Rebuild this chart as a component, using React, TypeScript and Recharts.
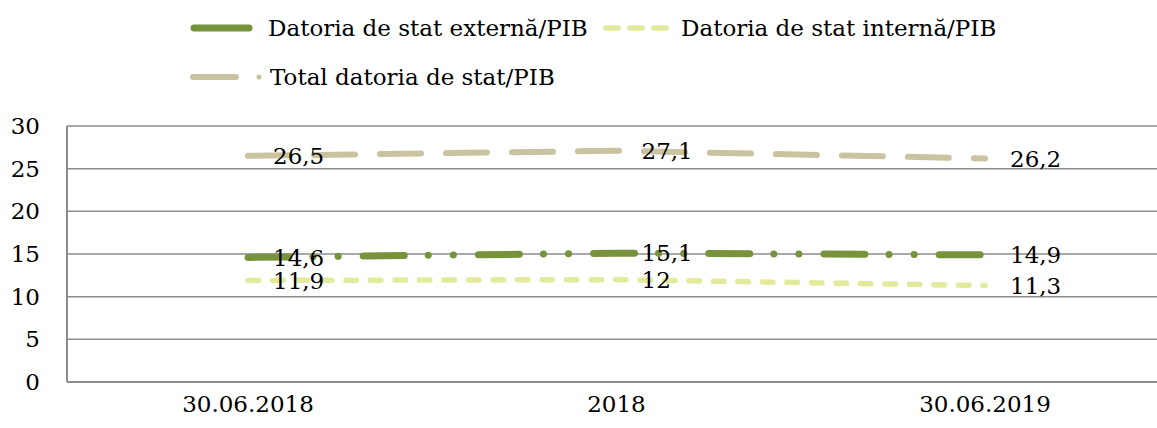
import React from "react";
import { LineChart, Line, XAxis, YAxis, CartesianGrid, Legend, LabelList } from "recharts";

const categories = ["30.06.2018", "2018", "30.06.2019"];
const externa = [14.6, 15.1, 14.9];
const interna = [11.9, 12, 11.3];
const total = [26.5, 27.1, 26.2];
const yTicks = [0, 5, 10, 15, 20, 25, 30];

const seriesNames = [
  "Datoria de stat externă/PIB",
  "Datoria de stat internă/PIB",
  "Total datoria de stat/PIB",
];

const data = categories.map((c, i) => ({
  name: c,
  externa: externa[i],
  interna: interna[i],
  total: total[i],
}));

const FONT = "'DejaVu Serif', serif";
const FS = 23;
const fmt = (v: any) => String(v).replace(".", ",");

const labelStyle = { fill: "#000", fontSize: FS, fontFamily: FONT };

function renderLegend() {
  return (
    <div style={{ position: "relative", width: 1157, height: 110, fontFamily: FONT, fontSize: FS, color: "#000" }}>
      <svg width={1157} height={110} style={{ position: "absolute", left: 0, top: 0 }}>
        <line x1={194} y1={28} x2={249} y2={28} stroke="#77933C" strokeWidth={7} strokeLinecap="round" />
        <line x1={606} y1={28} x2={668} y2={28} stroke="#E3EA9C" strokeWidth={5.5} strokeLinecap="round" strokeDasharray="12 12" />
        <line x1={193} y1={77} x2={236} y2={77} stroke="#C9C3A0" strokeWidth={6} strokeLinecap="round" />
        <circle cx={259} cy={77} r={2.5} fill="#C9C3A0" />
        <text x={268} y={28} dominantBaseline="central">{seriesNames[0]}</text>
        <text x={681} y={28} dominantBaseline="central">{seriesNames[1]}</text>
        <text x={270} y={77} dominantBaseline="central">{seriesNames[2]}</text>
      </svg>
    </div>
  );
}

export default function App() {
  return (
    <div style={{ position: "absolute", left: 0, top: 0, width: 1157, height: 428, overflow: "hidden", background: "#fff" }}>
      <LineChart
        width={1175}
        height={428}
        data={data}
        margin={{ top: 16, right: 7, bottom: 6, left: 0 }}
      >
        <CartesianGrid vertical={false} stroke="#8C8C8C" strokeWidth={1.5} />
        <XAxis
          dataKey="name"
          padding={{ left: 181, right: 183 }}
          tickLine={false}
          tickSize={0}
          tickMargin={14}
          height={40}
          axisLine={{ stroke: "#8C8C8C", strokeWidth: 2 }}
          tick={{ fill: "#000", fontSize: FS, fontFamily: FONT }}
        />
        <YAxis
          domain={[0, 30]}
          ticks={yTicks}
          width={67}
          tickLine={false}
          tickSize={0}
          tickMargin={27}
          axisLine={{ stroke: "#8C8C8C", strokeWidth: 2 }}
          tick={{ fill: "#000", fontSize: FS, fontFamily: FONT }}
        />
        <Legend
          verticalAlign="top"
          height={110}
          content={renderLegend}
          wrapperStyle={{ position: "absolute", left: 0, top: 0, width: 1157, height: 110 }}
        />
        <Line
          dataKey="total"
          name={seriesNames[2]}
          stroke="#C9C3A0"
          strokeWidth={6}
          strokeLinecap="round"
          strokeDasharray="41 25"
          dot={false}
          isAnimationActive={false}
        >
          <LabelList dataKey="total" position="right" offset={25} formatter={fmt} {...labelStyle} />
        </Line>
        <Line
          dataKey="interna"
          name={seriesNames[1]}
          stroke="#E3EA9C"
          strokeWidth={5.5}
          strokeLinecap="round"
          strokeDasharray="10.5 14"
          dot={false}
          isAnimationActive={false}
        >
          <LabelList dataKey="interna" position="right" offset={25} formatter={fmt} {...labelStyle} />
        </Line>
        <Line
          dataKey="externa"
          name={seriesNames[0]}
          stroke="#77933C"
          strokeWidth={7}
          strokeLinecap="round"
          strokeDasharray="41 24 0.1 25 0.1 25"
          dot={false}
          isAnimationActive={false}
        >
          <LabelList dataKey="externa" position="right" offset={25} formatter={fmt} {...labelStyle} />
        </Line>
      </LineChart>
    </div>
  );
}
